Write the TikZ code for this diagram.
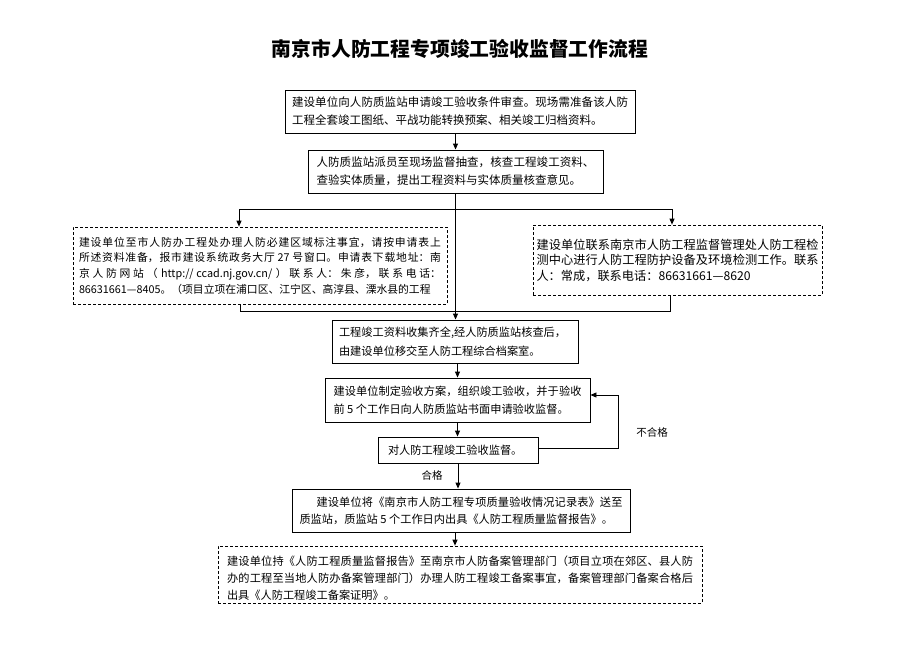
\documentclass[tikz,border=0pt]{standalone}
\usepackage{fontspec}
\setmainfont{Noto Sans CJK SC}
\usetikzlibrary{arrows.meta,calc}
\XeTeXlinebreaklocale "zh"
\XeTeXlinebreakskip=0pt plus 3pt
\tikzset{
  box/.style={draw, line width=0.9pt, align=justify, inner ysep=2pt,
    execute at begin node={\tolerance=9999\hbadness=10000\relax}},
  dbox/.style={box, dash pattern=on 3pt off 2pt, line width=0.7pt},
  arr/.style={line width=0.9pt, -{Triangle[length=6pt,width=5pt]}},
  ln/.style={line width=0.9pt},
  lbl/.style={font=\fontsize{10.5}{12}\selectfont, inner sep=0pt},
}
\begin{document}
\begin{tikzpicture}[x=1pt,y=-1pt]
\useasboundingbox (0,0) rectangle (920,651);

\node[font=\fontsize{19.8}{24}\selectfont\bfseries] (title) at (460,49) {南京市人防工程专项竣工验收监督工作流程};

\node[box, text width=336pt, inner xsep=7pt, minimum width=350pt, minimum height=43pt,
  font=\fontsize{11.5}{18}\selectfont] (b1) at (460,111.5)
  {建设单位向人防质监站申请竣工验收条件审查。现场需准备该人防\linebreak 工程全套竣工图纸、平战功能转换预案、相关竣工归档资料。};

\node[box, text width=278pt, inner xsep=8.5pt, minimum width=295pt, minimum height=43pt,
  font=\fontsize{11.5}{18}\selectfont] (b2) at (455.5,171.5)
  {人防质监站派员至现场监督抽查，核查工程竣工资料、\linebreak 查验实体质量，提出工程资料与实体质量核查意见。};

\node[dbox, text width=362pt, inner xsep=6pt, minimum width=374pt, minimum height=77pt,
  font=\fontsize{10.8}{15.7}\selectfont] (L) at (260,265.5)
  {\parfillskip=0pt 建设单位至市人防办工程处办理人防必建区域标注事宜，请按申请表上\linebreak 所述资料准备，报市建设系统政务大厅 27 号窗口。申请表下载地址：南\linebreak 京人防网站（ http://ccad.nj.gov.cn/ ）联系人：朱彦，联系电话：\linebreak 86631661—8405。（项目立项在浦口区、江宁区、高淳县、溧水县的工程};

\node[dbox, text width=282pt, inner xsep=3.5pt, minimum width=289pt, minimum height=70pt,
  font=\fontsize{12.2}{15.5}\selectfont] (R) at (677.5,260)
  {建设单位联系南京市人防工程监督管理处人防工程检\linebreak 测中心进行人防工程防护设备及环境检测工作。联系\linebreak 人：常成，联系电话：86631661—8620};

\node[box, align=left, text width=232pt, inner xsep=7pt, minimum width=246pt, minimum height=43pt,
  font=\fontsize{11.2}{18.5}\selectfont] (b3) at (455,341.5)
  {工程竣工资料收集齐全,经人防质监站核查后，\\由建设单位移交至人防工程综合档案室。};

\node[box, text width=248pt, inner xsep=8.5pt, minimum width=265pt, minimum height=44pt,
  font=\fontsize{11.2}{17.5}\selectfont] (b4) at (457.5,400)
  {建设单位制定验收方案，组织竣工验收，并于验收\linebreak 前 5 个工作日向人防质监站书面申请验收监督。};

\node[box, align=left, text width=140pt, inner xsep=10pt, minimum width=160pt, minimum height=26pt,
  font=\fontsize{11.2}{14}\selectfont] (b5) at (458,450)
  {对人防工程竣工验收监督。};

\node[box, text width=323pt, inner xsep=7.5pt, minimum width=338pt, minimum height=43pt,
  font=\fontsize{11.2}{17}\selectfont] (b6) at (461,510.5)
  {\hspace*{17pt}建设单位将《南京市人防工程专项质量验收情况记录表》送至\linebreak 质监站，质监站 5 个工作日内出具《人防工程质量监督报告》。};

\node[dbox, text width=466pt, inner xsep=9pt, minimum width=484pt, minimum height=57pt,
  font=\fontsize{11.2}{17}\selectfont] (b7) at (460,574.5)
  {\rule{0pt}{17pt}建设单位持《人防工程质量监督报告》至南京市人防备案管理部门（项目立项在郊区、县人防\linebreak 办的工程至当地人防办备案管理部门）办理人防工程竣工备案事宜，备案管理部门备案合格后\linebreak 出具《人防工程竣工备案证明》。};

% connectors
\draw[arr] (b1.south -| b2.north) -- (b2.north);
\draw[arr] (b2.south) -- (b2.south |- b3.north);

\coordinate (spL) at (239,209);
\coordinate (spR) at (672,209);
\draw[ln] (spL) -- (spR);
\draw[arr] (spL) -- (spL |- L.north);
\draw[arr] (spR) -- (spR |- R.north);

\coordinate (mgL) at (240,311);
\coordinate (mgR) at (670,311);
\draw[ln] (L.south -| mgL) -- (mgL) -- (mgR) -- (R.south -| mgR);

\draw[arr] (b3.south -| b4.north) -- (b4.north);
\draw[arr] (b4.south) -- (b4.south |- b5.north);
\draw[arr] (b5.south) -- (b5.south |- b6.north);
\draw[arr] ([xshift=-6pt]b6.south) -- ([xshift=-6pt]b6.south |- b7.north);

\draw[arr] ([yshift=2pt]b5.east) -- ++(80,0) |- ([yshift=5pt]b4.east);

\node[lbl] (ok) at (432,475) {合格};
\node[lbl] (nok) at (652,432) {不合格};
\end{tikzpicture}
\end{document}
